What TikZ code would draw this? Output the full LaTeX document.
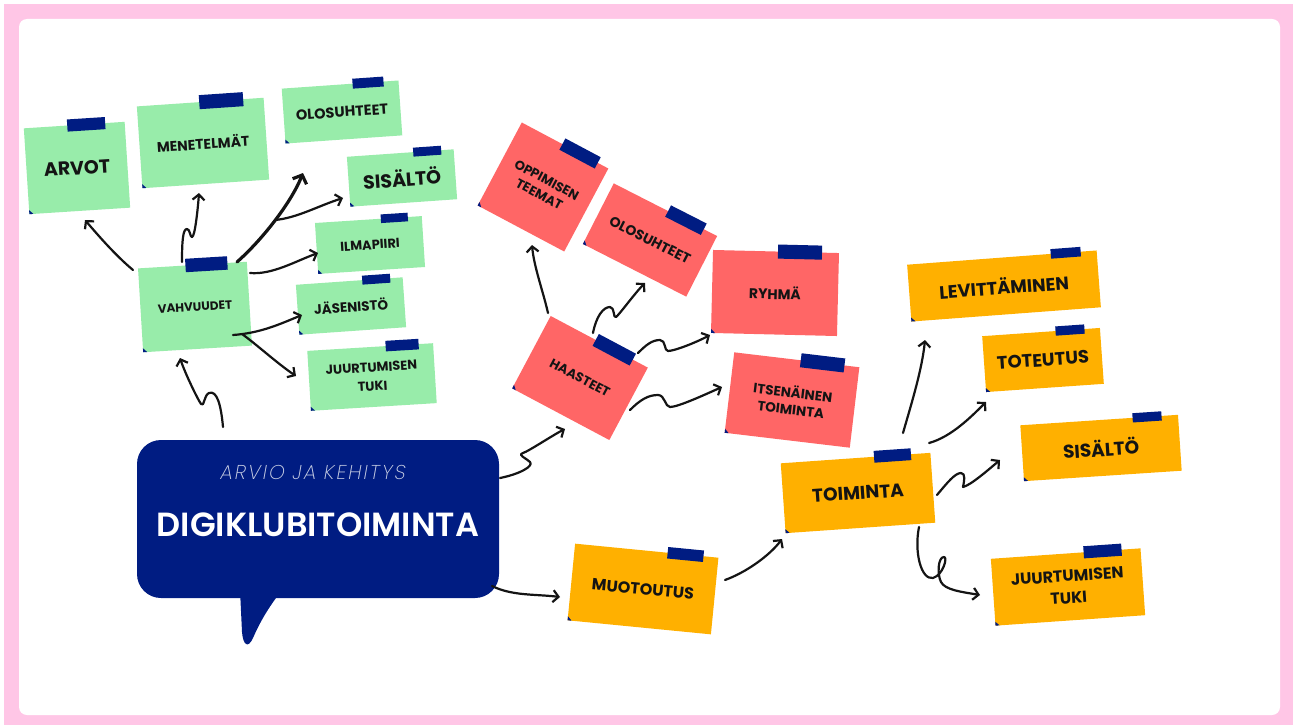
\documentclass[tikz,border=0pt]{standalone}
\usepackage{fontspec}
\setmainfont{Poppins}
\newfontfamily\titlefont{Poppins SemiBold}
\newfontfamily\handfont{Poppins ExtraLight}[FakeSlant=0.18, LetterSpace=10]
\usetikzlibrary{arrows.meta}

\definecolor{navy}{RGB}{0,28,130}
\definecolor{notegreen}{RGB}{152,236,170}
\definecolor{notered}{RGB}{255,102,102}
\definecolor{noteorange}{RGB}{255,176,0}
\definecolor{framepink}{RGB}{255,198,230}
\definecolor{ink}{RGB}{20,20,20}

\newcommand\fs[2]{\fontsize{#1}{#2}\selectfont}
% #1 name, #2 centre, #3 angle, #4 width, #5 height, #6 fill, #7 tape offset, #8 tape width, #9 label
\newcommand\stickynote[9]{%
  \begin{scope}[shift={#2}, rotate=#3]
    \node[note, fill=#6, minimum width=#4pt, minimum height=#5pt] (#1) at (0,0) {#9};
    \fill[navy] (#7-#8/2, -#5/2-0.16*#8) rectangle ++(#8, 0.32*#8);
    \fill[navy] (-#4/2, #5/2) -- ++(4,0) -- ++(-4,-4) -- cycle;
  \end{scope}}

\begin{document}
\begin{tikzpicture}[x=1pt, y=-1pt,
  note/.style={rectangle, inner sep=0pt, align=center, font=\bfseries, text=ink, transform shape},
  arr/.style={draw=ink, line width=2.2pt, line cap=round, line join=round,
              -{Straight Barb[length=5.5pt, width=12pt]}},
  heavy/.style={line width=3.2pt, -{Straight Barb[length=7pt, width=15pt]}},
  bubble/.style={rectangle, fill=navy, rounded corners=24pt, minimum width=362pt, minimum height=158pt, inner sep=0pt}]

\useasboundingbox (0,0) rectangle (1293,725);
% frame
\fill[framepink] (4,4) rectangle (1293,725);
\fill[white, rounded corners=8pt] (19,19) rectangle (1280,715);

% speech bubble
\fill[navy] (240,590) -- (242,632) .. controls (243,645) and (248,649) .. (253,638)
  .. controls (260,622) and (268,608) .. (282,590) -- cycle;
\node[bubble] (bubble) at (318,519) {};
\node[font=\handfont\fs{20}{23}, text=white!80!navy] (sub) at (312,472) {ARVIO JA KEHITYS};
\node[font=\titlefont\fs{33.5}{38}, text=white] (title) at (318,525) {DIGIKLUBITOIMINTA};

% green notes
\stickynote{arvot}{(77,168)}{3.7}{101}{86}{notegreen}{12}{38}{\fs{19}{23}ARVOT}
\stickynote{menet}{(203,143)}{3.9}{127}{82}{notegreen}{21}{44}{\fs{14}{17}MENETELMÄT}
\stickynote{olosG}{(342,112)}{4}{117}{55}{notegreen}{28}{31}{\fs{14.5}{17}OLOSUHTEET}
\stickynote{sisG}{(402,178)}{4}{107}{50}{notegreen}{27}{28}{\fs{19}{22}SISÄLTÖ}
\stickynote{ilma}{(370,245)}{3.7}{107}{51}{notegreen}{26}{27}{\fs{13}{16}ILMAPIIRI}
\stickynote{jasen}{(351,306)}{4}{107}{50}{notegreen}{27}{28}{\fs{13.5}{16}JÄSENISTÖ}
\stickynote{juurG}{(372,377)}{3.5}{126}{60}{notegreen}{32}{33}{\fs{13}{19}JUURTUMISEN\\[7pt]\fs{13}{19}TUKI}
\stickynote{vahv}{(195,307)}{3.5}{109}{84}{notegreen}{14}{42}{\fs{12}{14}VAHVUUDET}

% red notes
\stickynote{opp}{(543,187)}{-28}{98}{94}{notered}{17}{40}{\fs{13}{17}OPPIMISEN\\[4pt]\fs{13}{17}TEEMAT}
\stickynote{olosR}{(650,240)}{-27}{116}{68}{notered}{23}{40}{\fs{14}{17}OLOSUHTEET}
\stickynote{ryhma}{(775,293)}{-1.4}{126}{83}{notered}{24}{44}{\fs{14}{17}RYHMÄ}
\stickynote{itsen}{(792,400)}{-6.8}{126}{81}{notered}{26}{44}{\fs{13.5}{17}ITSENÄINEN\\[5pt]\fs{13.5}{17}TOIMINTA}
\stickynote{haast}{(580,378)}{-28}{110}{82}{notered}{17}{42}{\fs{13}{16}HAASTEET}

% orange notes
\stickynote{levit}{(1004,286)}{4.3}{190}{57}{noteorange}{64}{30}{\fs{18}{21}LEVITTÄMINEN}
\stickynote{toteu}{(1043,360)}{4}{118}{56}{noteorange}{29}{29}{\fs{18}{21}\raisebox{-3pt}{TOTEUTUS}}
\stickynote{sisO}{(1101,448)}{3.8}{158}{56}{noteorange}{48}{29}{\fs{18.5}{21}\raisebox{-3pt}{SISÄLTÖ}}
\stickynote{juurO}{(1068,587)}{4}{150}{67}{noteorange}{37}{38}{\fs{16}{24}JUURTUMISEN\\[10pt]\fs{16}{24}TUKI}
\stickynote{toim}{(858,493)}{4}{150}{70}{noteorange}{37}{37}{\fs{18.5}{21}\raisebox{-4pt}{TOIMINTA}}
\stickynote{muot}{(643,589)}{-5.6}{144}{77}{noteorange}{39}{36}{\fs{16}{19}MUOTOUTUS}

% connectors around VAHVUUDET
\draw[arr] ([shift={(-62,-37)}]vahv.center) .. controls +(-18,-15) and +(12,14) .. ([shift={(8,52)}]arvot.center);
\draw[arr] ([shift={(-13,-45)}]vahv.center) .. controls +(0,-22) and +(-4,0) .. ++(5,-33)
  .. controls +(3,0) and +(-2,0) .. ++(5,8) .. controls +(3,0) and +(-1,14) .. ([shift={(-4,50)}]menet.center);
\draw[arr, heavy] ([shift={(42,-45)}]vahv.center) .. controls +(25,-22) and +(-12,30) .. ([shift={(-39,61)}]olosG.center);
\draw[arr] ([shift={(80,-87)}]vahv.center) .. controls +(22,-2) and +(-25,8) .. ([shift={(-59,20)}]sisG.center);
\draw[arr] ([shift={(55,-34)}]vahv.center) .. controls +(22,2) and +(-22,8) .. ([shift={(-52,8)}]ilma.center);
\draw[arr] ([shift={(38,28)}]vahv.center) .. controls +(28,-2) and +(-22,9) .. ([shift={(-49,9)}]jasen.center);
\draw[arr] ([shift={(47,27)}]vahv.center) .. controls +(14,10) and +(-18,-12) .. ([shift={(-76,-1)}]juurG.center);
\draw[arr] ([shift={(-95,-92)}]bubble.center) .. controls +(-2,-22) and +(8,-3) .. ++(-14,-34)
  .. controls +(-5,2) and +(3,4) .. ++(-8,11) .. controls +(-4,-6) and +(5,15) .. ([shift={(-15,51)}]vahv.center);

% connectors around HAASTEET
\draw[arr] ([shift={(182,-41)}]bubble.center) .. controls +(20,-4) and +(4,4) .. ++(30,-16)
  .. controls +(-4,-4) and +(-6,2) .. ++(-7,-9) .. controls +(6,-2) and +(-12,6) .. ([shift={(-15,51)}]haast.center);
\draw[arr] ([shift={(-32,-65)}]haast.center) .. controls +(-5,-22) and +(2,22) .. ([shift={(-11,58)}]opp.center);
\draw[arr] ([shift={(13,-45)}]haast.center) .. controls +(3,-16) and +(-7,0) .. ++(17,-26)
  .. controls +(5,0) and +(-3,2) .. ++(6,10) .. controls +(3,-2) and +(-10,10) .. ([shift={(-5,43)}]olosR.center);
\draw[arr] ([shift={(58,-25)}]haast.center) .. controls +(8,-8) and +(-8,0) .. ++(22,-13)
  .. controls +(6,0) and +(-4,0) .. ++(8,11) .. controls +(6,0) and +(-15,8) .. ([shift={(-65,42)}]ryhma.center);
\draw[arr] ([shift={(50,32)}]haast.center) .. controls +(10,-10) and +(-10,0) .. ++(28,-15)
  .. controls +(7,0) and +(-5,0) .. ++(12,12) .. controls +(8,0) and +(-18,8) .. ([shift={(-70,-13)}]itsen.center);

% connectors around TOIMINTA
\draw[arr] ([shift={(174,67)}]bubble.center) .. controls +(20,10) and +(-25,-3) .. ([shift={(-83,8)}]muot.center);
\draw[arr] ([shift={(82,-9)}]muot.center) .. controls +(22,-8) and +(-12,16) .. ([shift={(-76,46)}]toim.center);
\draw[arr] ([shift={(45,-60)}]toim.center) .. controls +(8,-28) and +(-3,30) .. ([shift={(-79,54)}]levit.center);
\draw[arr] ([shift={(71,-50)}]toim.center) .. controls +(22,-6) and +(-15,15) .. ([shift={(-57,42)}]toteu.center);
\draw[arr] ([shift={(79,2)}]toim.center) .. controls +(10,-12) and +(-6,0) .. ++(24,-22)
  .. controls +(5,0) and +(1,-5) .. ++(2,14) .. controls +(8,-2) and +(-12,10) .. ([shift={(-101,12)}]sisO.center);
\draw[arr] ([shift={(61,34)}]toim.center) .. controls +(-5,25) and +(-12,2) .. ++(14,51)
  .. controls +(10,-3) and +(4,0) .. ++(11,-21) .. controls +(-6,0) and +(-4,-8) .. ++(-3,25)
  .. controls +(4,8) and +(-18,-3) .. ([shift={(-88,8)}]juurO.center);

\end{tikzpicture}
\end{document}
